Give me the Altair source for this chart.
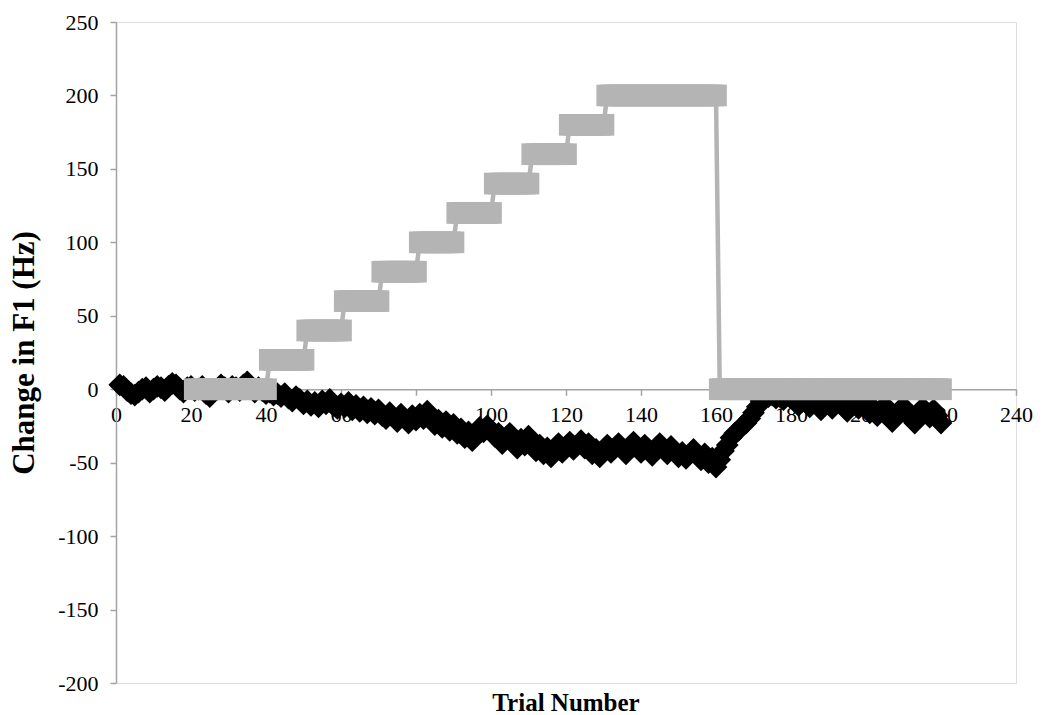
import altair as alt
import pandas as pd

# ---------------- data ----------------
trials = list(range(1, 221))

black_values = [
    # 1-40
    3, 2, -1, -3, -4, -2, 0, 1, -2, 0, 2, 1, -1, 2, 4, 3, 0, -2, 1, 2,
    -1, 0, 2, -3, -5, -2, 0, 3, 1, -2, 2, 1, -1, 3, 5, 2, -2, 1, -1, -3,
    # 41-80
    -2, -4, -3, -5, -3, -6, -8, -5, -7, -10, -8, -11, -9, -12, -8, -10, -7, -11, -13, -10,
    -12, -9, -14, -11, -15, -12, -16, -13, -17, -14, -18, -20, -16, -19, -22, -17, -20, -23, -18, -21,
    # 81-120
    -17, -20, -15, -19, -24, -21, -26, -22, -28, -24, -30, -27, -33, -29, -35, -31, -26, -29, -25, -28,
    -32, -30, -37, -33, -30, -36, -40, -34, -38, -32, -36, -42, -38, -44, -40, -46, -41, -37, -43, -39,
    # 121-160
    -36, -41, -38, -35, -40, -37, -44, -41, -46, -42, -38, -43, -40, -37, -41, -44, -39, -36, -40, -43,
    -38, -41, -45, -40, -37, -41, -44, -39, -42, -46, -43, -47, -44, -41, -45, -48, -44, -50, -47, -53,
    # 161-180
    -48, -42, -38, -33, -30, -28, -25, -23, -20, -16, -12, -8, -6, -5, -4, -6, -5, -7, -4, -6,
    # 181-220
    -8, -11, -7, -9, -12, -8, -10, -14, -11, -9, -13, -10, -8, -12, -15, -11, -9, -13, -10, -12,
    -16, -13, -18, -14, -11, -17, -22, -18, -14, -12, -16, -20, -23, -17, -13, -15, -19, -14, -18, -23,
]

# gray target series: constant blocks of trials
gray_start = [21, 41, 51, 61, 71, 81, 91, 101, 111, 121, 131, 161]
gray_end = [40, 50, 60, 70, 80, 90, 100, 110, 120, 130, 160, 220]
gray_level = [0, 20, 40, 60, 80, 100, 120, 140, 160, 180, 200, 0]

x_ticks = [0, 20, 40, 60, 80, 100, 120, 140, 160, 180, 200, 220, 240]
y_ticks = [-200, -150, -100, -50, 0, 50, 100, 150, 200, 250]

black_df = pd.DataFrame({"trial": trials, "value": black_values})
gray_rows = []
for s, e, v in zip(gray_start, gray_end, gray_level):
    for t in range(s, e + 1):
        gray_rows.append({"trial": t, "value": v})
gray_df = pd.DataFrame(gray_rows)

FONT = "Liberation Serif"
AXIS_GRAY = "#a3a3a3"
GRAY = "#b4b4b4"

PLOT_H = 661
ZERO_FROM_BOTTOM = PLOT_H * 200 / 450.0

x_enc = alt.X(
    "trial:Q",
    scale=alt.Scale(domain=[0, 240], nice=False, zero=False),
    axis=alt.Axis(
        values=x_ticks,
        title=None,
        offset=-ZERO_FROM_BOTTOM,
        grid=False,
        domainColor=AXIS_GRAY,
        domainWidth=1.5,
        tickColor=AXIS_GRAY,
        tickWidth=1.5,
        tickSize=6,
        labelPadding=9,
        labelFont=FONT,
        labelFontSize=22,
        labelColor="black",
        labelFlush=False,
        labelOverlap=False,
        labelExpr="'' + datum.value",
    ),
)
y_enc = alt.Y(
    "value:Q",
    scale=alt.Scale(domain=[-200, 250], nice=False, zero=False),
    axis=alt.Axis(
        values=y_ticks,
        title="Change in F1 (Hz)",
        titleFont=FONT,
        titleFontSize=31,
        titleFontWeight="bold",
        titleColor="black",
        titlePadding=17,
        grid=False,
        domainColor=AXIS_GRAY,
        domainWidth=1.5,
        tickColor=AXIS_GRAY,
        tickWidth=1.5,
        tickSize=6,
        labelPadding=12,
        labelFont=FONT,
        labelFontSize=22,
        labelColor="black",
        labelFlush=False,
        labelOverlap=False,
        labelExpr="'' + datum.value",
    ),
)

black_line = alt.Chart(black_df).mark_line(color="black", strokeWidth=2.5).encode(x=x_enc, y=y_enc)
black_pts = alt.Chart(black_df).mark_point(
    shape="diamond", filled=True, color="black", size=520, opacity=1
).encode(x="trial:Q", y="value:Q")

gray_line = alt.Chart(gray_df).mark_line(color=GRAY, strokeWidth=4.5).encode(x="trial:Q", y="value:Q")
gray_pts = alt.Chart(gray_df).mark_point(
    shape="square", filled=True, color=GRAY, size=470, opacity=1
).encode(x="trial:Q", y="value:Q")

chart = (
    alt.layer(black_line, black_pts, gray_line, gray_pts)
    .properties(
        width=900,
        height=PLOT_H,
        title=alt.TitleParams(
            "Trial Number",
            orient="bottom",
            anchor="middle",
            frame="group",
            font=FONT,
            fontSize=25,
            fontWeight="bold",
            color="black",
            offset=-3,
        ),
        padding={"left": 116, "top": 22, "right": 26, "bottom": 32},
        autosize=alt.AutoSizeParams(type="none"),
    )
    .configure_view(stroke=None)
    .configure(background="white")
)

chart.save("out.html", embed_options={"renderer": "svg", "actions": False})
